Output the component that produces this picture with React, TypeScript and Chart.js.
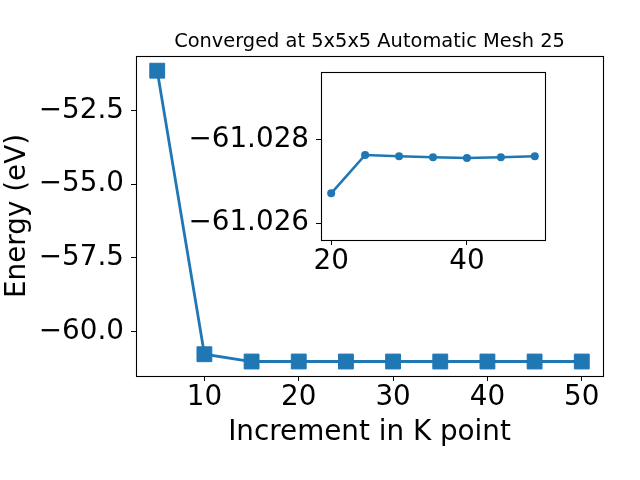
import React, { useEffect, useRef } from 'react';
import { Chart, registerables } from 'chart.js';

Chart.register(...registerables);

// ---- data ----
const kPoints = [5, 10, 15, 20, 25, 30, 35, 40, 45, 50];
const energies = [-51.14, -60.78, -61.0276, -61.02671, -61.027625, -61.027594, -61.02757, -61.027553, -61.02757, -61.027594];

const insetK = [20, 25, 30, 35, 40, 45, 50];
const insetEnergies = [-61.02671, -61.027625, -61.027594, -61.02757, -61.027553, -61.02757, -61.027594];

const mainXTicks = [10, 20, 30, 40, 50];
const mainYTicks = [-52.5, -55.0, -57.5, -60.0];
const insetXTicks = [20, 40];
const insetYTicks = [-61.028, -61.026];

const titleText = 'Converged at 5x5x5 Automatic Mesh 25';
const xLabel = 'Increment in K point';
const yLabel = 'Energy (eV)';

const BLUE = '#1f77b4';
const FONT = 'DejaVu Sans';

const fmt = (v: number, d: number) => (v < 0 ? '\u2212' : '') + Math.abs(v).toFixed(d);

const framePlugin = {
  id: 'frame',
  beforeDraw(chart: any) {
    const { ctx, chartArea: a } = chart;
    ctx.save();
    ctx.fillStyle = '#ffffff';
    ctx.fillRect(a.left, a.top, a.right - a.left, a.bottom - a.top);
    ctx.restore();
  },
  afterDraw(chart: any) {
    const { ctx, chartArea: a } = chart;
    ctx.save();
    ctx.strokeStyle = '#000';
    ctx.lineWidth = 1.1;
    const l = Math.round(a.left) + 0.5;
    const t = Math.round(a.top) + 0.5;
    const r = Math.round(a.right) + 0.5;
    const b = Math.round(a.bottom) + 0.5;
    ctx.strokeRect(l, t, r - l, b - t);
    ctx.restore();
  },
};

const tickGrid = { drawOnChartArea: false, drawTicks: true, tickLength: 5, color: '#000', lineWidth: 1 };

export default function App() {
  const mainRef = useRef<HTMLCanvasElement>(null);
  const insetRef = useRef<HTMLCanvasElement>(null);

  useEffect(() => {
    Chart.defaults.font.family = FONT;
    const main = new Chart(mainRef.current as HTMLCanvasElement, {
      type: 'line',
      data: {
        datasets: [
          {
            data: kPoints.map((k, i) => ({ x: k, y: energies[i] })),
            borderColor: BLUE,
            backgroundColor: BLUE,
            borderWidth: 2.8,
            pointStyle: 'rect',
            pointRadius: 10.5,
            pointBorderWidth: 1,
            pointBorderColor: BLUE,
            pointBackgroundColor: BLUE,
            tension: 0,
            fill: false,
          },
        ],
      },
      options: {
        animation: false,
        responsive: false,
        devicePixelRatio: 1,
        layout: { padding: { left: 0, right: 37, top: 0, bottom: 0 } },
        plugins: {
          legend: { display: false },
          tooltip: { enabled: false },
          title: {
            display: true,
            fullSize: false,
            text: titleText,
            color: '#000',
            font: { size: 19.4, weight: 'normal', family: FONT },
            padding: { top: 30.5, bottom: 2.2 },
          },
        },
        scales: {
          x: {
            type: 'linear',
            min: 2.75,
            max: 52.25,
            grid: tickGrid,
            border: { display: false },
            afterBuildTicks: (s: any) => { s.ticks = mainXTicks.map((v) => ({ value: v })); },
            afterFit: (s: any) => { s.height = 104; },
            ticks: { color: '#000', font: { size: 27.8, family: FONT }, padding: 0, autoSkip: false, maxRotation: 0, callback: (v: any) => String(v) },
            title: { display: true, text: xLabel, color: '#000', font: { size: 27.8, family: FONT }, padding: { top: 0, bottom: 31 } },
          },
          y: {
            type: 'linear',
            min: -61.52,
            max: -50.64,
            grid: tickGrid,
            border: { display: false },
            afterBuildTicks: (s: any) => { s.ticks = mainYTicks.map((v) => ({ value: v })); },
            afterFit: (s: any) => { s.width = 136; },
            ticks: { color: '#000', font: { size: 27.8, family: FONT }, padding: 7, autoSkip: false, callback: (v: any) => fmt(Number(v), 1) },
            title: { display: true, text: yLabel, color: '#000', font: { size: 27.8, family: FONT }, padding: { top: 1, bottom: 0 } },
          },
        },
      },
      plugins: [framePlugin],
    } as any);

    const inset = new Chart(insetRef.current as HTMLCanvasElement, {
      type: 'line',
      data: {
        datasets: [
          {
            data: insetK.map((k, i) => ({ x: k, y: insetEnergies[i] })),
            borderColor: BLUE,
            backgroundColor: BLUE,
            borderWidth: 2.6,
            pointStyle: 'circle',
            pointRadius: 4,
            pointBorderWidth: 0,
            pointBackgroundColor: BLUE,
            tension: 0,
            fill: false,
          },
        ],
      },
      options: {
        animation: false,
        responsive: false,
        devicePixelRatio: 1,
        layout: { padding: { left: 0, right: 15, top: 0, bottom: 0 } },
        plugins: {
          legend: { display: false },
          tooltip: { enabled: false },
          title: { display: false },
        },
        scales: {
          x: {
            type: 'linear',
            min: 18.5,
            max: 51.5,
            grid: tickGrid,
            border: { display: false },
            afterBuildTicks: (s: any) => { s.ticks = insetXTicks.map((v) => ({ value: v })); },
            afterFit: (s: any) => { s.height = 52; },
            ticks: { color: '#000', font: { size: 27.8, family: FONT }, padding: 0, autoSkip: false, maxRotation: 0, callback: (v: any) => String(v) },
          },
          y: {
            type: 'linear',
            reverse: true,
            min: -61.029608,
            max: -61.025594,
            grid: tickGrid,
            border: { display: false },
            afterBuildTicks: (s: any) => { s.ticks = insetYTicks.map((v) => ({ value: v })); },
            afterFit: (s: any) => { s.width = 171; s.paddingTop = 24; s.paddingBottom = 24; },
            ticks: { color: '#000', font: { size: 27.8, family: FONT }, padding: 7, autoSkip: false, callback: (v: any) => fmt(Number(v), 3) },
          },
        },
      },
      plugins: [framePlugin],
    } as any);

    return () => {
      main.destroy();
      inset.destroy();
    };
  }, []);

  return (
    <div style={{ position: 'absolute', left: 0, top: 0, width: 640, height: 480, background: '#fff' }}>
      <canvas ref={mainRef} width={640} height={480} style={{ position: 'absolute', left: 0, top: 0, width: 640, height: 480 }} />
      <canvas ref={insetRef} width={410} height={244} style={{ position: 'absolute', left: 150, top: 48, width: 410, height: 244 }} />
    </div>
  );
}
